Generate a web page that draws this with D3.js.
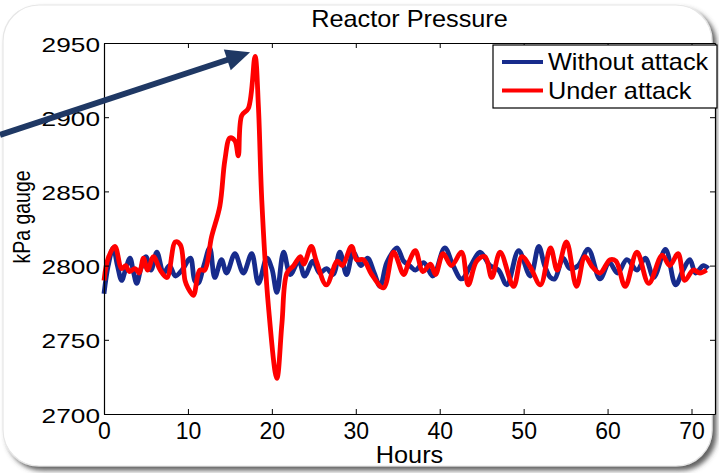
<!DOCTYPE html>
<html>
<head>
<meta charset="utf-8">
<script src="https://cdn.jsdelivr.net/npm/d3@7"></script>
<style>
  html, body { margin: 0; padding: 0; background: #fff; }
  svg { display: block; font-family: "Liberation Sans", Arial, sans-serif; }
</style>
</head>
<body>
<svg id="chart" width="719" height="473"></svg>
<script>
// ---- data ----
const titleText = "Reactor Pressure";
const xLabel = "Hours";
const yLabel = "kPa gauge";
const seriesNames = ["Without attack", "Under attack"];
const xTicks = [0, 10, 20, 30, 40, 50, 60, 70];
const yTicks = [2700, 2750, 2800, 2850, 2900, 2950];

const hoursWithout = [0, 0.5, 1.1, 1.6, 2.1, 2.6, 3.1, 3.5, 3.9, 4.4, 5.0, 5.6, 6.3, 7.1, 7.8, 8.5, 9.3, 10.3, 10.8, 11.2, 11.9, 12.6, 13.2, 14.0, 14.6, 15.6, 16.6, 17.6, 18.4, 19.4, 20.0, 20.6, 21.4, 22.2, 23.2, 23.9, 24.9, 25.7, 26.5, 27.3, 28.1, 28.9, 29.7, 30.6, 31.4, 32.2, 32.9, 33.7, 34.9, 35.7, 36.4, 37.1, 38.1, 39.2, 40.6, 41.6, 42.6, 43.7, 44.8, 46.0, 47.0, 48.0, 49.4, 50.8, 51.8, 52.5, 53.2, 53.7, 54.7, 55.5, 56.5, 57.7, 59.1, 60.2, 61.2, 62.3, 63.5, 64.5, 65.5, 66.9, 68.1, 69.0, 69.8, 70.5, 71.4, 72.0];
const pressureWithout = [2781, 2800, 2812, 2800, 2790, 2798, 2805, 2796, 2788, 2798, 2806, 2797, 2809, 2795, 2800, 2793, 2797, 2805, 2790, 2788, 2800, 2812, 2792, 2804, 2795, 2808, 2795, 2808, 2788, 2805, 2798, 2782, 2809, 2794, 2803, 2793, 2803, 2795, 2798, 2794, 2809, 2794, 2809, 2800, 2805, 2795, 2786, 2802, 2812, 2803, 2800, 2797, 2802, 2793, 2812, 2800, 2791, 2800, 2809, 2800, 2797, 2787, 2810, 2793, 2813, 2800, 2792, 2791, 2805, 2798, 2800, 2811, 2791, 2802, 2795, 2804, 2797, 2805, 2792, 2811, 2787, 2797, 2804, 2795, 2800, 2798];

const hoursUnder = [0, 0.5, 1.3, 2.1, 2.6, 3.0, 3.7, 4.2, 4.7, 5.2, 5.9, 6.7, 7.5, 8.5, 9.1, 9.65, 10.0, 10.65, 11.4, 12.0, 12.8, 13.8, 14.4, 15.0, 15.6, 16.0, 16.4, 17.2, 18.0, 18.4, 18.8, 19.6, 20.6, 21.2, 21.8, 22.6, 23.4, 23.8, 24.7, 25.3, 26.5, 27.8, 28.4, 29.5, 30.1, 30.9, 31.9, 33.3, 34.5, 35.7, 36.3, 37.1, 38.0, 38.9, 39.5, 40.4, 41.4, 42.6, 43.4, 44.4, 45.4, 46.2, 47.2, 48.8, 49.8, 50.8, 52.0, 53.2, 54.0, 55.1, 56.3, 57.3, 58.2, 59.1, 60.3, 61.0, 62.1, 63.5, 64.9, 66.5, 67.4, 68.4, 69.2, 70.2, 71.0, 71.8];
const pressureUnder = [2790, 2805, 2813, 2798, 2800, 2796, 2798, 2795, 2805, 2797, 2806, 2797, 2792, 2816, 2814, 2790, 2785, 2780, 2797, 2797, 2819, 2840, 2871, 2886, 2884, 2874, 2901, 2906, 2941, 2907, 2844, 2772, 2724, 2761, 2795, 2800, 2806, 2801, 2813, 2803, 2787, 2803, 2800, 2813, 2804, 2804, 2794, 2785, 2809, 2794, 2802, 2810, 2796, 2801, 2794, 2808, 2800, 2809, 2787, 2803, 2806, 2792, 2809, 2786, 2806, 2799, 2787, 2812, 2797, 2816, 2786, 2806, 2799, 2795, 2804, 2803, 2786, 2809, 2788, 2807, 2800, 2808, 2790, 2797, 2795, 2797];

// ---- styling ----
const colors = ["#172b8c", "#ff0000"];
const margin = { left: 104, right: 4, top: 43, bottom: 59 };
const W = 719, H = 473;

const svg = d3.select("#chart");

// frame with shadow
const defs = svg.append("defs");
const f = defs.append("filter").attr("id", "shadow").attr("x", "-5%").attr("y", "-5%").attr("width", "115%").attr("height", "115%");
f.append("feDropShadow").attr("dx", 4).attr("dy", 4).attr("stdDeviation", 2.5).attr("flood-color", "#444").attr("flood-opacity", 0.85);

svg.append("rect")
  .attr("x", 3).attr("y", 5).attr("width", 709).attr("height", 461)
  .attr("rx", 36).attr("ry", 36)
  .attr("fill", "#fff").attr("stroke", "#e6e6e6").attr("stroke-width", 1.2)
  .attr("filter", "url(#shadow)");

const x = d3.scaleLinear().domain([0, 72.8]).range([margin.left, W - margin.right]);
const y = d3.scaleLinear().domain([2700, 2950]).range([H - margin.bottom, margin.top]);

// plot box
svg.append("rect")
  .attr("x", x(0)).attr("y", y(2950))
  .attr("width", x(72.8) - x(0)).attr("height", y(2700) - y(2950))
  .attr("fill", "#fff");

// lines
const line = d3.line().x(d => x(d[0])).y(d => y(d[1])).curve(d3.curveCatmullRom.alpha(0.5));
const dataWithout = hoursWithout.map((h, i) => [h, pressureWithout[i]]);
const dataUnder = hoursUnder.map((h, i) => [h, pressureUnder[i]]);

svg.append("path").datum(dataWithout).attr("d", line)
  .attr("fill", "none").attr("stroke", colors[0]).attr("stroke-width", 4.8).attr("stroke-linejoin", "round");
svg.append("path").datum(dataUnder).attr("d", line)
  .attr("fill", "none").attr("stroke", colors[1]).attr("stroke-width", 4.8).attr("stroke-linejoin", "round");

// axes (MATLAB style: inward ticks on all four sides)
const tickLen = 5;
const gx = svg.append("g").attr("transform", `translate(0,${y(2700)})`)
  .call(d3.axisBottom(x).tickValues(xTicks).tickFormat(d3.format("d")).tickSizeInner(-tickLen).tickSizeOuter(0).tickPadding(0));
gx.select(".domain").attr("stroke", "#000").attr("stroke-width", 1.2);
gx.selectAll(".tick line").attr("stroke", "#000");
gx.selectAll(".tick text")
  .attr("y", 25).attr("dy", 0)
  .attr("font-size", 23).attr("fill", "#000");

const gxTop = svg.append("g").attr("transform", `translate(0,${y(2950)})`)
  .call(d3.axisTop(x).tickValues(xTicks).tickSizeInner(-tickLen).tickSizeOuter(0).tickFormat(""));
gxTop.select(".domain").attr("stroke", "#000").attr("stroke-width", 1.2);
gxTop.selectAll(".tick line").attr("stroke", "#000");

const gy = svg.append("g").attr("transform", `translate(${x(0)},0)`)
  .call(d3.axisLeft(y).tickValues(yTicks).tickFormat(d3.format("d")).tickSizeInner(-tickLen).tickSizeOuter(0).tickPadding(0));
gy.select(".domain").attr("stroke", "#000").attr("stroke-width", 1.2);
gy.selectAll(".tick line").attr("stroke", "#000");
gy.selectAll(".tick text")
  .attr("x", null).attr("dy", null)
  .attr("transform", "translate(-4,8) scale(1.25,1)")
  .attr("font-size", 21).attr("fill", "#000").attr("text-anchor", "end");

const gyRight = svg.append("g").attr("transform", `translate(${x(72.8)},0)`)
  .call(d3.axisRight(y).tickValues(yTicks).tickSizeInner(-tickLen).tickSizeOuter(0).tickFormat(""));
gyRight.select(".domain").attr("stroke", "#000").attr("stroke-width", 1.2);
gyRight.selectAll(".tick line").attr("stroke", "#000");

// title and labels
const cx = (x(0) + x(72.8)) / 2;
svg.append("text").attr("transform", `translate(${cx},27) scale(1.1,1)`)
  .attr("text-anchor", "middle").attr("font-size", 23).text(titleText);
svg.append("text").attr("transform", `translate(${cx},463) scale(1.1,1)`)
  .attr("text-anchor", "middle").attr("font-size", 23).text(xLabel);
svg.append("text").attr("transform", `translate(30,217) rotate(-90) scale(1,1.2)`)
  .attr("text-anchor", "middle").style("font-size", "19.5px").text(yLabel);

// legend
const lg = svg.append("g");
lg.append("rect").attr("x", 493).attr("y", 45).attr("width", 224).attr("height", 63)
  .attr("fill", "#fff").attr("stroke", "#000").attr("stroke-width", 1.2);
seriesNames.forEach((name, i) => {
  const ly = 62 + i * 28.5;
  lg.append("line").attr("x1", 502).attr("x2", 543).attr("y1", ly).attr("y2", ly)
    .attr("stroke", colors[i]).attr("stroke-width", 4);
  lg.append("text").attr("transform", `translate(548,${ly + 8}) scale(1.1,1)`)
    .attr("font-size", 23).text(name);
});

// annotation arrow pointing at the attack peak
const peakIdx = d3.maxIndex(pressureUnder);
const tipX = x(hoursUnder[peakIdx]) - 5, tipY = y(pressureUnder[peakIdx]) - 4;
const startX = 0, startY = 135;
const ang = Math.atan2(tipY - startY, tipX - startX);
const headLen = 24, headW = 11;
const baseX = tipX - headLen * Math.cos(ang), baseY = tipY - headLen * Math.sin(ang);
const arrowColor = "#1f3864";
svg.append("line").attr("x1", startX).attr("y1", startY).attr("x2", baseX + 2 * Math.cos(ang)).attr("y2", baseY + 2 * Math.sin(ang))
  .attr("stroke", arrowColor).attr("stroke-width", 6);
svg.append("path")
  .attr("d", `M${tipX},${tipY} L${baseX - headW * Math.sin(ang)},${baseY + headW * Math.cos(ang)} L${baseX + headW * Math.sin(ang)},${baseY - headW * Math.cos(ang)} Z`)
  .attr("fill", arrowColor);
</script>
</body>
</html>
